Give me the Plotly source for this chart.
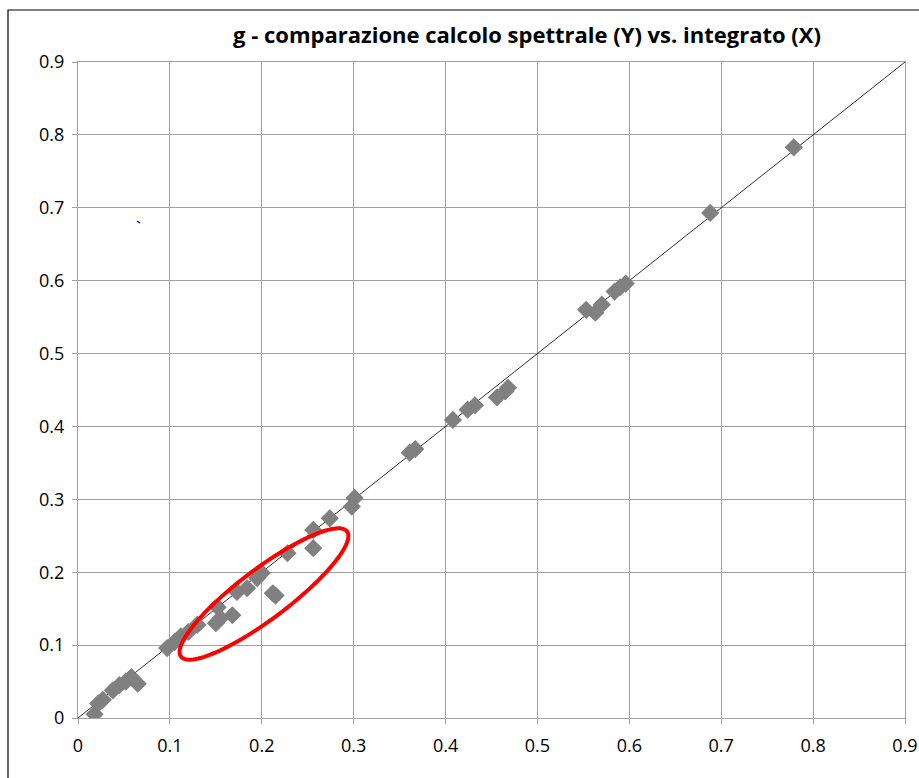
import numpy as np
import plotly.graph_objects as go

# integrated (X) vs spectral (Y)
x_vals = [0.018, 0.022, 0.027, 0.038, 0.045, 0.052, 0.058, 0.065,
          0.097, 0.105, 0.112, 0.12, 0.13, 0.15, 0.152, 0.155, 0.168,
          0.173, 0.184, 0.195, 0.2, 0.212, 0.215, 0.228, 0.256, 0.256,
          0.274, 0.298, 0.301,
          0.361, 0.367, 0.408, 0.424, 0.432, 0.456, 0.465, 0.468,
          0.553, 0.563, 0.57, 0.584, 0.59, 0.596, 0.688, 0.779]
y_vals = [0.005, 0.02, 0.025, 0.038, 0.045, 0.05, 0.056, 0.047,
          0.096, 0.104, 0.112, 0.118, 0.128, 0.13, 0.152, 0.137, 0.141,
          0.173, 0.178, 0.192, 0.199, 0.171, 0.168, 0.226, 0.233, 0.258,
          0.274, 0.29, 0.302,
          0.364, 0.369, 0.409, 0.423, 0.429, 0.44, 0.448, 0.453,
          0.56, 0.556, 0.567, 0.585, 0.591, 0.596, 0.693, 0.783]
ref_line = [0, 0.9]
tick_vals = [0, 0.1, 0.2, 0.3, 0.4, 0.5, 0.6, 0.7, 0.8, 0.9]
tick_text = ["0", "0.1", "0.2", "0.3", "0.4", "0.5", "0.6", "0.7", "0.8", "0.9"]

FONT = "Open Sans, Roboto, sans-serif"

fig = go.Figure()
fig.add_trace(go.Scatter(x=ref_line, y=ref_line, mode="lines",
                         line=dict(color="#303030", width=1), showlegend=False,
                         hoverinfo="skip"))
fig.add_trace(go.Scatter(x=x_vals, y=y_vals, mode="markers",
                         marker=dict(symbol="diamond", size=14, color="#808080",
                                     line=dict(width=0)),
                         showlegend=False))

# red ellipse annotation (pixel-space geometry converted to data units)
L, R, T, B = 78, 905, 62, 718
pxu = (R - L) / 0.9
pyu = (B - T) / 0.9
cx, cy = 264, 594
a, b = 104, 25
ang = np.deg2rad(-37)
t = np.linspace(0, 2 * np.pi, 120)
px = cx + a * np.cos(t) * np.cos(ang) - b * np.sin(t) * np.sin(ang)
py = cy + a * np.cos(t) * np.sin(ang) + b * np.sin(t) * np.cos(ang)
dx = (px - L) / pxu
dy = (B - py) / pyu
path = "M " + " L ".join(f"{u:.5f},{v:.5f}" for u, v in zip(dx, dy)) + " Z"
fig.add_shape(type="path", path=path, xref="x", yref="y",
              line=dict(color="#ff0000", width=4))

# tiny blue speck
fig.add_shape(type="line", x0=(137 - L) / pxu, y0=(B - 221) / pyu,
              x1=(140 - L) / pxu, y1=(B - 223) / pyu, xref="x", yref="y",
              line=dict(color="#0000ff", width=1.5))

# outer chart border
W = R - L
H = B - T
fig.add_shape(type="rect", xref="paper", yref="paper",
              x0=(8 - L) / W, y0=(B - 800) / H, x1=(960 - L) / W, y1=(B - 10) / H,
              line=dict(color="#000000", width=1.2), layer="below")

axis_common = dict(range=[0, 0.9], tickvals=tick_vals, ticktext=tick_text,
                   showgrid=True, gridcolor="#a0a0a0", gridwidth=1,
                   showline=True, linecolor="#a0a0a0", linewidth=1,
                   mirror=True, ticks="outside", ticklen=5, tickcolor="#a0a0a0",
                   zeroline=False, automargin=False,
                   tickfont=dict(family=FONT, size=18, color="#000000"))

fig.update_xaxes(**axis_common, ticklabelstandoff=6)
fig.update_yaxes(**axis_common, ticklabelstandoff=4)

fig.update_layout(
    width=919, height=778,
    margin=dict(l=L, r=919 - R, t=T, b=778 - B, autoexpand=False),
    paper_bgcolor="white", plot_bgcolor="white",
    title=dict(text="<b>g - comparazione calcolo spettrale (Y) vs. integrato (X)</b>",
               x=527 / 919, xanchor="center", y=1 - 35 / 778, yanchor="middle",
               font=dict(family=FONT, size=22, color="#000000")),
)

fig.write_html("out.html", config={"displayModeBar": False},
               post_script="document.body.style.margin='0';document.body.style.overflow='hidden';")
